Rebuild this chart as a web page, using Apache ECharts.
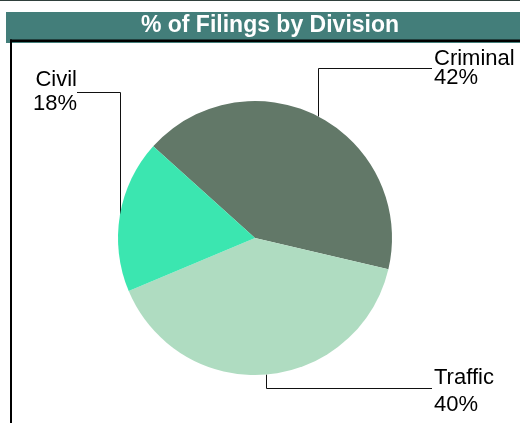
<!DOCTYPE html>
<html>
<head>
<meta charset="utf-8">
<script src="https://cdn.jsdelivr.net/npm/echarts@6/dist/echarts.min.js"></script>
<style>
html,body{margin:0;padding:0;background:#fff;}
#c{width:520px;height:423px;}
</style>
</head>
<body>
<div id="c"></div>
<script>
// Data
var titleText = '% of Filings by Division';
var categories = ['Criminal', 'Traffic', 'Civil'];
var shares = [42, 40, 18];

// Styles
var sliceColors = ['#627868', '#afdcc1', '#3be6b0'];
var labelLineHeights = [19, 27, 24];
// label anchor: [x, y(top), align, elbowY, lineEndX]
var labelPlace = [
  [434, 49, 'left', 68, 432],
  [434, 364, 'left', 388, 432],
  [77, 68, 'right', 92, 77]
];

var chart = echarts.init(document.getElementById('c'), null, {renderer: 'canvas'});

var data = categories.map(function (name, i) {
  return {
    name: name,
    value: shares[i],
    itemStyle: {color: sliceColors[i]},
    label: {lineHeight: labelLineHeights[i]}
  };
});

chart.setOption({
  animation: false,
  backgroundColor: '#ffffff',
  graphic: [
    {type: 'rect', shape: {x: 0, y: 0, width: 520, height: 1}, style: {fill: '#2f3f3b'}, z: 0},
    {type: 'rect', shape: {x: 6, y: 12, width: 514, height: 31}, style: {fill: '#437e7a'}, z: 0},
    {type: 'rect', shape: {x: 10, y: 39.5, width: 510, height: 2.5}, style: {fill: '#000'}, z: 1},
    {type: 'rect', shape: {x: 10, y: 39.5, width: 2, height: 384}, style: {fill: '#000'}, z: 1},
    {type: 'text', x: 270, y: 26, z: 2,
      style: {text: titleText, fill: '#ffffff', font: 'bold 23px "Liberation Sans", Arial, sans-serif',
        align: 'center', verticalAlign: 'middle'}}
  ],
  series: [{
    type: 'pie',
    center: [255, 238],
    radius: 137,
    startAngle: 138,
    clockwise: true,
    silent: true,
    emphasis: {disabled: true},
    itemStyle: {borderWidth: 0},
    label: {
      show: true,
      position: 'outside',
      formatter: '{b}\n{c}%',
      fontFamily: '"Liberation Sans", Arial, sans-serif',
      fontSize: 22,
      color: '#000'
    },
    labelLine: {show: true, lineStyle: {color: '#111', width: 1}},
    labelLayout: function (params) {
      var p = labelPlace[params.dataIndex];
      var pts = params.labelLinePoints;
      var ex = Math.round(pts[0][0]) + 0.5, ey = pts[0][1];
      var ly = p[3] + 0.5;
      return {
        x: p[0],
        y: p[1],
        align: p[2],
        verticalAlign: 'top',
        labelLinePoints: [[ex, ey], [ex, ly], [p[4], ly]]
      };
    },
    data: data
  }]
});
</script>
</body>
</html>
